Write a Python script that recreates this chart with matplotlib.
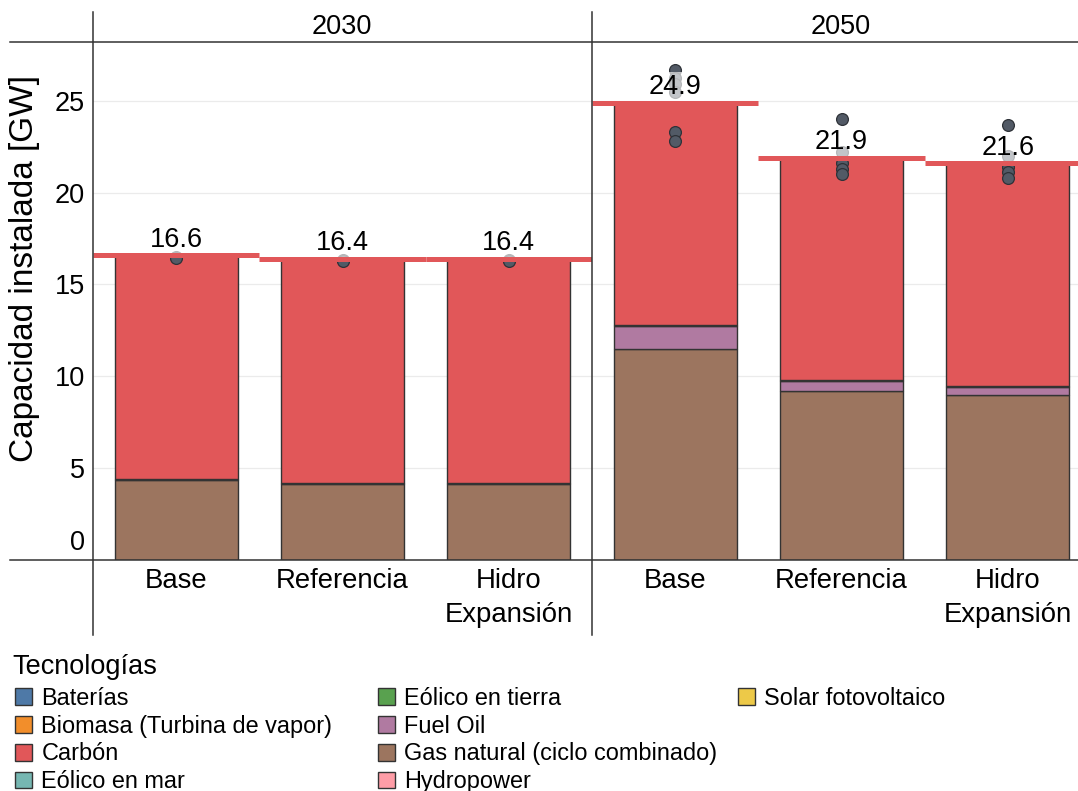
import matplotlib.pyplot as plt
from matplotlib.lines import Line2D
from matplotlib.patches import Patch

plt.rcParams['font.family'] = ['Liberation Sans', 'DejaVu Sans']

# Data
escenarios = ['Base', 'Referencia', 'Hidro\nExpansión']
anios = ['2030', '2050']

# 2030 stacks (GW)
gas_2030 = [4.35, 4.15, 4.15]
fuel_2030 = [0.06, 0.06, 0.06]
eolico_tierra_2030 = [0.0, 0.0, 0.0]
carbon_2030 = [12.19, 12.19, 12.19]
totales_2030 = [16.6, 16.4, 16.4]
puntos_2030 = [[16.5, 16.45], [16.35, 16.3], [16.35, 16.3]]

# 2050 stacks (GW)
gas_2050 = [11.5, 9.18, 8.97]
fuel_2050 = [1.25, 0.58, 0.47]
eolico_tierra_2050 = [0.05, 0.05, 0.05]
carbon_2050 = [12.1, 12.09, 12.11]
totales_2050 = [24.9, 21.9, 21.6]
puntos_2050 = [[26.7, 26.25, 25.9, 25.5, 23.3, 22.8],
               [24.0, 22.2, 21.6, 21.3, 21.0],
               [23.7, 22.0, 21.4, 21.1, 20.8]]

# Legend technologies and colours
tecnologias = ['Baterías', 'Biomasa (Turbina de vapor)', 'Carbón', 'Eólico en mar',
               'Eólico en tierra', 'Fuel Oil', 'Gas natural (ciclo combinado)',
               'Hydropower', 'Solar fotovoltaico']
colores = ['#4E79A7', '#F28E2B', '#E15759', '#76B7B2', '#59A14F', '#B07AA1',
           '#9C755F', '#FF9DA7', '#EDC948']
color_de = dict(zip(tecnologias, colores))

W, H = 1078, 791
EDGE = '#333333'


def fx(px):
    return px / W


def fy(py):
    return 1 - py / H


def draw_panel(ax, capas, totales, puntos):
    x = list(range(len(escenarios)))
    bottom = [0.0] * len(x)
    for tec, valores in capas:
        ax.bar(x, valores, width=0.74, bottom=bottom, color=color_de[tec],
               edgecolor=EDGE, linewidth=1, zorder=2)
        bottom = [b + v for b, v in zip(bottom, valores)]

    for i, pts in enumerate(puntos):
        ax.plot([i] * len(pts), pts, 'o', ms=8.5, mfc='#525A66', mec='#2E3238',
                mew=0.9, zorder=3, linestyle='none')

    for i, t in enumerate(totales):
        ax.annotate(f'{t:.1f}', (i, t), xytext=(0, 6), textcoords='offset points',
                    ha='center', va='baseline', fontsize=19.5, zorder=4,
                    bbox=dict(boxstyle='square,pad=0.08', fc='white', ec='none', alpha=0.65))
        ax.hlines(t, i - 0.5, i + 0.5, color='#E15759', lw=3.6, zorder=5)

    ax.set_xlim(-0.5, 2.5)
    ax.set_ylim(0, 28.2)
    ax.set_xticks(x)
    ax.set_xticklabels(escenarios, fontsize=19.8, linespacing=1.4)
    ax.tick_params(axis='x', length=0, pad=5.5)
    ax.set_yticks([5, 10, 15, 20, 25])
    ax.yaxis.grid(True, color='#ebebeb', lw=0.9, zorder=0)
    ax.set_axisbelow(True)
    for s in ax.spines.values():
        s.set_visible(False)


fig = plt.figure(figsize=(W / 100, H / 100), dpi=100)

ax1 = fig.add_axes([fx(93), fy(560), fx(499), 518 / H])
ax2 = fig.add_axes([fx(592), fy(560), fx(499), 518 / H])

draw_panel(ax1, [('Gas natural (ciclo combinado)', gas_2030), ('Fuel Oil', fuel_2030),
                 ('Eólico en tierra', eolico_tierra_2030), ('Carbón', carbon_2030)],
           totales_2030, puntos_2030)
draw_panel(ax2, [('Gas natural (ciclo combinado)', gas_2050), ('Fuel Oil', fuel_2050),
                 ('Eólico en tierra', eolico_tierra_2050), ('Carbón', carbon_2050)],
           totales_2050, puntos_2050)

ax1.tick_params(axis='y', length=0, pad=6, labelsize=19.5)
ax1.annotate('0', xy=(0, 0), xycoords=('axes fraction', 'data'), xytext=(-6, 12),
             textcoords='offset points', ha='right', va='center', fontsize=19.5)
ax2.tick_params(axis='y', length=0, labelleft=False)

# frame lines like a facet table
for xp in (93, 592):
    fig.add_artist(Line2D([fx(xp), fx(xp)], [fy(12), fy(635)], color=EDGE, lw=1.1))
for yp in (42, 560):
    fig.add_artist(Line2D([fx(10), 1], [fy(yp), fy(yp)], color=EDGE, lw=1.1))

# facet strip labels
fig.text(fx(342), fy(27), anios[0], ha='center', va='center', fontsize=19.5)
fig.text(fx(841), fy(27), anios[1], ha='center', va='center', fontsize=19.5)

fig.text(fx(25), fy(268), 'Capacidad instalada [GW]', rotation=90,
         ha='center', va='center', fontsize=24)

# legend in three columns (4, 4, 1)
fig.text(fx(12), fy(667), 'Tecnologías', ha='left', va='center', fontsize=19.5)
columnas = [tecnologias[0:4], tecnologias[4:8], tecnologias[8:]]
for col, xp in zip(columnas, (15, 378, 738)):
    handles = [Patch(facecolor=color_de[t], edgecolor=EDGE, lw=1) for t in col]
    fig.legend(handles, col, loc='upper left', bbox_to_anchor=(fx(xp), fy(687)),
               frameon=False, fontsize=16.9, handlelength=0.72, handleheight=0.72,
               handletextpad=0.4, labelspacing=0.2, borderpad=0, borderaxespad=0)

fig.savefig('out.png', dpi=100)
